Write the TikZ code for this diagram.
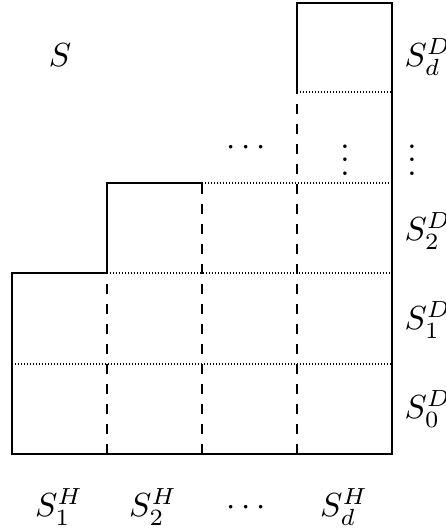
\documentclass[tikz,border=0pt]{standalone}
\begin{document}
\begin{tikzpicture}[x=0.3pt,y=-0.3pt,
  line width=0.35pt,
  rowline/.style={dash pattern=on 0.4pt off 0.5pt},
  colline/.style={dashed},
  lab/.style={inner sep=0pt},
  rowlab/.style={lab,anchor=west}]
\useasboundingbox (0,0) rectangle (446,531);
% staircase outline
\draw (202,183) -- (107,183) -- (107,273) -- (12,273) -- (12,454)
      -- (392,454) -- (392,3) -- (297,3) -- (297,92);
% row boundaries
\draw[rowline] (12,364) -- (392,364);
\draw[rowline] (107,273) -- (392,273);
\draw[rowline] (202,183) -- (392,183);
\draw[rowline] (297,92) -- (392,92);
% column boundaries
\draw[colline] (107,454) -- (107,273);
\draw[colline] (202,454) -- (202,183);
\draw[colline] (297,454) -- (297,92);
% labels
\node[lab] (s) at (60,55) {$S$};
\node[lab] (hdots) at (246,148) {$\cdots$};
\node[lab] (vdin) at (345,150) {$\vdots$};
\node[rowlab] (dd) at (404,57) {$S_d^D$};
\node[lab] (vdout) at (412,150) {$\vdots$};
\node[rowlab] (d2) at (404,231) {$S_2^D$};
\node[rowlab] (d1) at (404,320) {$S_1^D$};
\node[rowlab] (d0) at (404,409) {$S_0^D$};
\node[lab] (h1) at (59,507) {$S_1^H$};
\node[lab] (h2) at (153,507) {$S_2^H$};
\node[lab] (hc) at (246,508) {$\cdots$};
\node[lab] (hd) at (344,507) {$S_d^H$};
\end{tikzpicture}
\end{document}
